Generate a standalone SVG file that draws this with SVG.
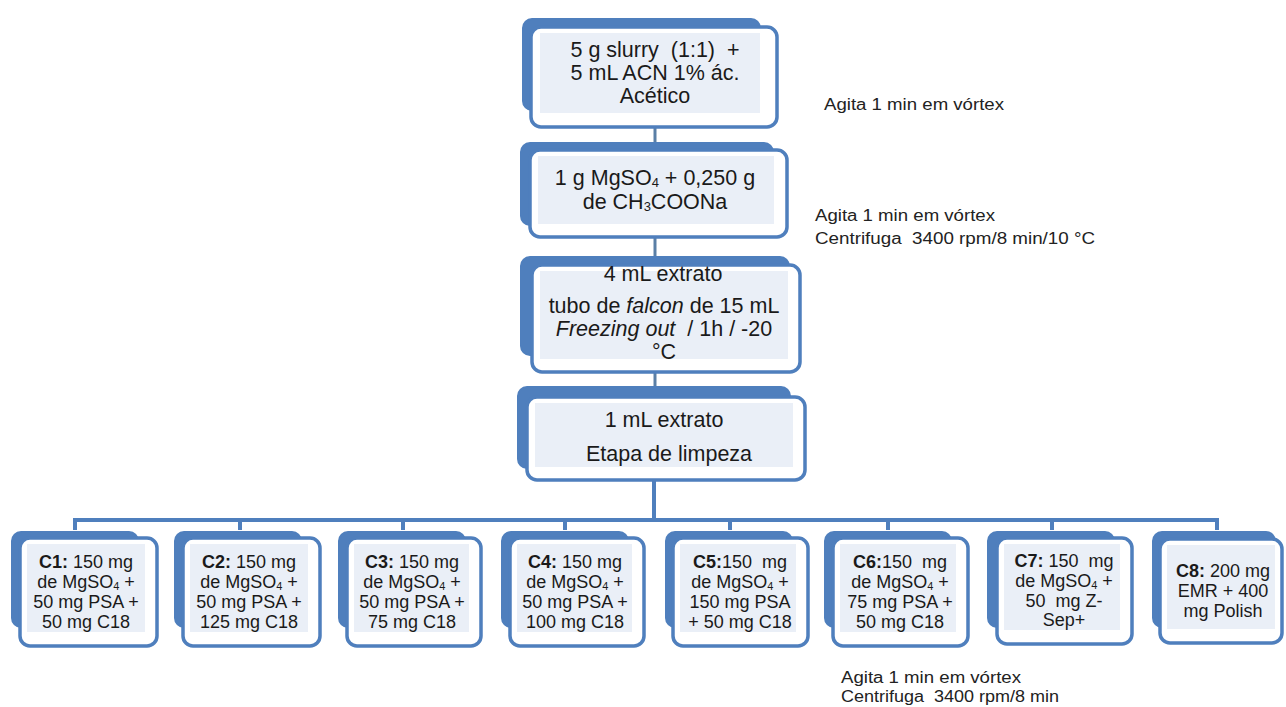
<svg xmlns="http://www.w3.org/2000/svg" width="1286" height="707" viewBox="0 0 1286 707" xml:space="preserve">
<style>
.back{fill:#4f7fbd;stroke:#4f7fbd;stroke-width:2}
.front{fill:#ffffff;stroke:#4f7fbd;stroke-width:3.5}
.inner{fill:#eaeff7}
.t{font-family:"Liberation Sans",Arial,sans-serif;fill:#1a1a1a;text-anchor:middle;white-space:pre}
.big{font-size:21.5px}
.small{font-size:18px}
.sub{font-size:11px}
.side{font-family:"Liberation Sans",Arial,sans-serif;font-size:16px;fill:#222222;white-space:pre}
.conn{stroke:#4f7fbd;stroke-width:4;fill:none}
.stub{stroke:#5a7fa6;stroke-width:3;fill:none}
</style>
<rect width="1286" height="707" fill="#ffffff"/>
<g id="connectors">
<line class="stub" x1="655" y1="127" x2="655" y2="145"/>
<line class="stub" x1="655" y1="237" x2="655" y2="259"/>
<line class="stub" x1="655" y1="372" x2="655" y2="389"/>
<line class="conn" x1="654" y1="480" x2="654" y2="520"/>
<line class="conn" x1="73" y1="520" x2="1219" y2="520"/>
<line class="conn" x1="75" y1="518" x2="75" y2="530"/>
<line class="conn" x1="240" y1="518" x2="240" y2="530"/>
<line class="conn" x1="403" y1="518" x2="403" y2="530"/>
<line class="conn" x1="565" y1="518" x2="565" y2="530"/>
<line class="conn" x1="730" y1="518" x2="730" y2="530"/>
<line class="conn" x1="888" y1="518" x2="888" y2="530"/>
<line class="conn" x1="1052" y1="518" x2="1052" y2="530"/>
<line class="conn" x1="1217" y1="518" x2="1217" y2="530"/>
</g>
<g id="n1">
<rect class="back" x="523" y="19" width="237" height="91" rx="9"/>
<rect class="front" x="531" y="27" width="246" height="100" rx="10"/>
<rect class="inner" x="540" y="33" width="220" height="80"/>
<text class="t big" x="655" y="57">5 g slurry  (1:1)  +</text>
<text class="t big" x="655" y="80">5 mL ACN 1% ác.</text>
<text class="t big" x="655" y="103">Acético</text>
</g>
<g id="n2">
<rect class="back" x="521" y="143" width="252" height="82" rx="9"/>
<rect class="front" x="530" y="150" width="257" height="87" rx="10"/>
<rect class="inner" x="538" y="156" width="236" height="68"/>
<text class="t big" x="655" y="185">1 g MgSO<tspan font-size="13" dy="2">4</tspan><tspan dy="-2"> + 0,250 g</tspan></text>
<text class="t big" x="655" y="209">de CH<tspan font-size="13" dy="2">3</tspan><tspan dy="-2">COONa</tspan></text>
</g>
<g id="n3">
<rect class="back" x="521" y="257" width="268" height="98" rx="9"/>
<rect class="front" x="532" y="265" width="268" height="107" rx="10"/>
<rect class="inner" x="540" y="271" width="248" height="88"/>
<text class="t big" x="663" y="281">4 mL extrato</text>
<text class="t big" x="664" y="313">tubo de <tspan font-style="italic">falcon</tspan> de 15 mL</text>
<text class="t big" x="664" y="336"><tspan font-style="italic">Freezing out</tspan>  / 1h / -20</text>
<text class="t big" x="664" y="359">°C</text>
</g>
<g id="n4">
<rect class="back" x="518" y="387" width="272" height="81" rx="9"/>
<rect class="front" x="527" y="397" width="278" height="83" rx="10"/>
<rect class="inner" x="535" y="403" width="258" height="64"/>
<text class="t big" x="664" y="427">1 mL extrato</text>
<text class="t big" x="669" y="461">Etapa de limpeza</text>
</g>
<g id="c1">
<rect class="back" x="12" y="532" width="126" height="95" rx="9"/>
<rect class="front" x="20" y="538" width="137" height="108" rx="10"/>
<rect class="inner" x="27" y="544" width="118" height="88"/>
<text class="t small" x="86" y="568"><tspan font-weight="bold">C1:</tspan> 150 mg</text>
<text class="t small" x="86" y="588">de MgSO<tspan class="sub" dy="2">4</tspan><tspan dy="-2"> +</tspan></text>
<text class="t small" x="86" y="608">50 mg PSA +</text>
<text class="t small" x="86" y="628">50 mg C18</text>
</g>
<g id="c2">
<rect class="back" x="175" y="532" width="126" height="95" rx="9"/>
<rect class="front" x="183" y="538" width="137" height="108" rx="10"/>
<rect class="inner" x="190" y="544" width="118" height="88"/>
<text class="t small" x="249" y="568"><tspan font-weight="bold">C2:</tspan> 150 mg</text>
<text class="t small" x="249" y="588">de MgSO<tspan class="sub" dy="2">4</tspan><tspan dy="-2"> +</tspan></text>
<text class="t small" x="249" y="608">50 mg PSA +</text>
<text class="t small" x="249" y="628">125 mg C18</text>
</g>
<g id="c3">
<rect class="back" x="339" y="532" width="126" height="95" rx="9"/>
<rect class="front" x="347" y="538" width="134" height="108" rx="10"/>
<rect class="inner" x="354" y="544" width="115" height="88"/>
<text class="t small" x="412" y="568"><tspan font-weight="bold">C3:</tspan> 150 mg</text>
<text class="t small" x="412" y="588">de MgSO<tspan class="sub" dy="2">4</tspan><tspan dy="-2"> +</tspan></text>
<text class="t small" x="412" y="608">50 mg PSA +</text>
<text class="t small" x="412" y="628">75 mg C18</text>
</g>
<g id="c4">
<rect class="back" x="502" y="532" width="126" height="95" rx="9"/>
<rect class="front" x="510" y="538" width="134" height="108" rx="10"/>
<rect class="inner" x="517" y="544" width="115" height="88"/>
<text class="t small" x="575" y="568"><tspan font-weight="bold">C4:</tspan> 150 mg</text>
<text class="t small" x="575" y="588">de MgSO<tspan class="sub" dy="2">4</tspan><tspan dy="-2"> +</tspan></text>
<text class="t small" x="575" y="608">50 mg PSA +</text>
<text class="t small" x="575" y="628">100 mg C18</text>
</g>
<g id="c5">
<rect class="back" x="666" y="532" width="126" height="95" rx="9"/>
<rect class="front" x="673" y="538" width="135" height="108" rx="10"/>
<rect class="inner" x="680" y="544" width="116" height="88"/>
<text class="t small" x="740" y="568"><tspan font-weight="bold">C5:</tspan>150  mg</text>
<text class="t small" x="740" y="588">de MgSO<tspan class="sub" dy="2">4</tspan><tspan dy="-2"> +</tspan></text>
<text class="t small" x="740" y="608">150 mg PSA</text>
<text class="t small" x="740" y="628">+ 50 mg C18</text>
</g>
<g id="c6">
<rect class="back" x="825" y="532" width="126" height="95" rx="9"/>
<rect class="front" x="833" y="538" width="135" height="108" rx="10"/>
<rect class="inner" x="840" y="544" width="116" height="88"/>
<text class="t small" x="900" y="568"><tspan font-weight="bold">C6:</tspan>150  mg</text>
<text class="t small" x="900" y="588">de MgSO<tspan class="sub" dy="2">4</tspan><tspan dy="-2"> +</tspan></text>
<text class="t small" x="900" y="608">75 mg PSA +</text>
<text class="t small" x="900" y="628">50 mg C18</text>
</g>
<g id="c7">
<rect class="back" x="988" y="532" width="126" height="95" rx="9"/>
<rect class="front" x="997" y="538" width="135" height="106" rx="10"/>
<rect class="inner" x="1004" y="544" width="116" height="86"/>
<text class="t small" x="1064" y="567"><tspan font-weight="bold">C7:</tspan> 150  mg</text>
<text class="t small" x="1064" y="587">de MgSO<tspan class="sub" dy="2">4</tspan><tspan dy="-2"> +</tspan></text>
<text class="t small" x="1064" y="607">50  mg Z-</text>
<text class="t small" x="1064" y="626">Sep+</text>
</g>
<g id="c8">
<rect class="back" x="1153" y="532" width="122" height="95" rx="9"/>
<rect class="front" x="1160" y="539" width="122" height="104" rx="10"/>
<rect class="inner" x="1167" y="545" width="108" height="84"/>
<text class="t small" x="1223" y="577"><tspan font-weight="bold">C8:</tspan> 200 mg</text>
<text class="t small" x="1223" y="597">EMR + 400</text>
<text class="t small" x="1223" y="617">mg Polish</text>
</g>
<g id="notes">
<text class="side" x="824" y="110" textLength="180" lengthAdjust="spacingAndGlyphs">Agita 1 min em vórtex</text>
<text class="side" x="815" y="221" textLength="180" lengthAdjust="spacingAndGlyphs">Agita 1 min em vórtex</text>
<text class="side" x="815" y="244" textLength="280" lengthAdjust="spacingAndGlyphs">Centrifuga  3400 rpm/8 min/10 °C</text>
<text class="side" x="841" y="683" textLength="180" lengthAdjust="spacingAndGlyphs">Agita 1 min em vórtex</text>
<text class="side" x="841" y="702" textLength="218" lengthAdjust="spacingAndGlyphs">Centrifuga  3400 rpm/8 min</text>
</g>
</svg>
